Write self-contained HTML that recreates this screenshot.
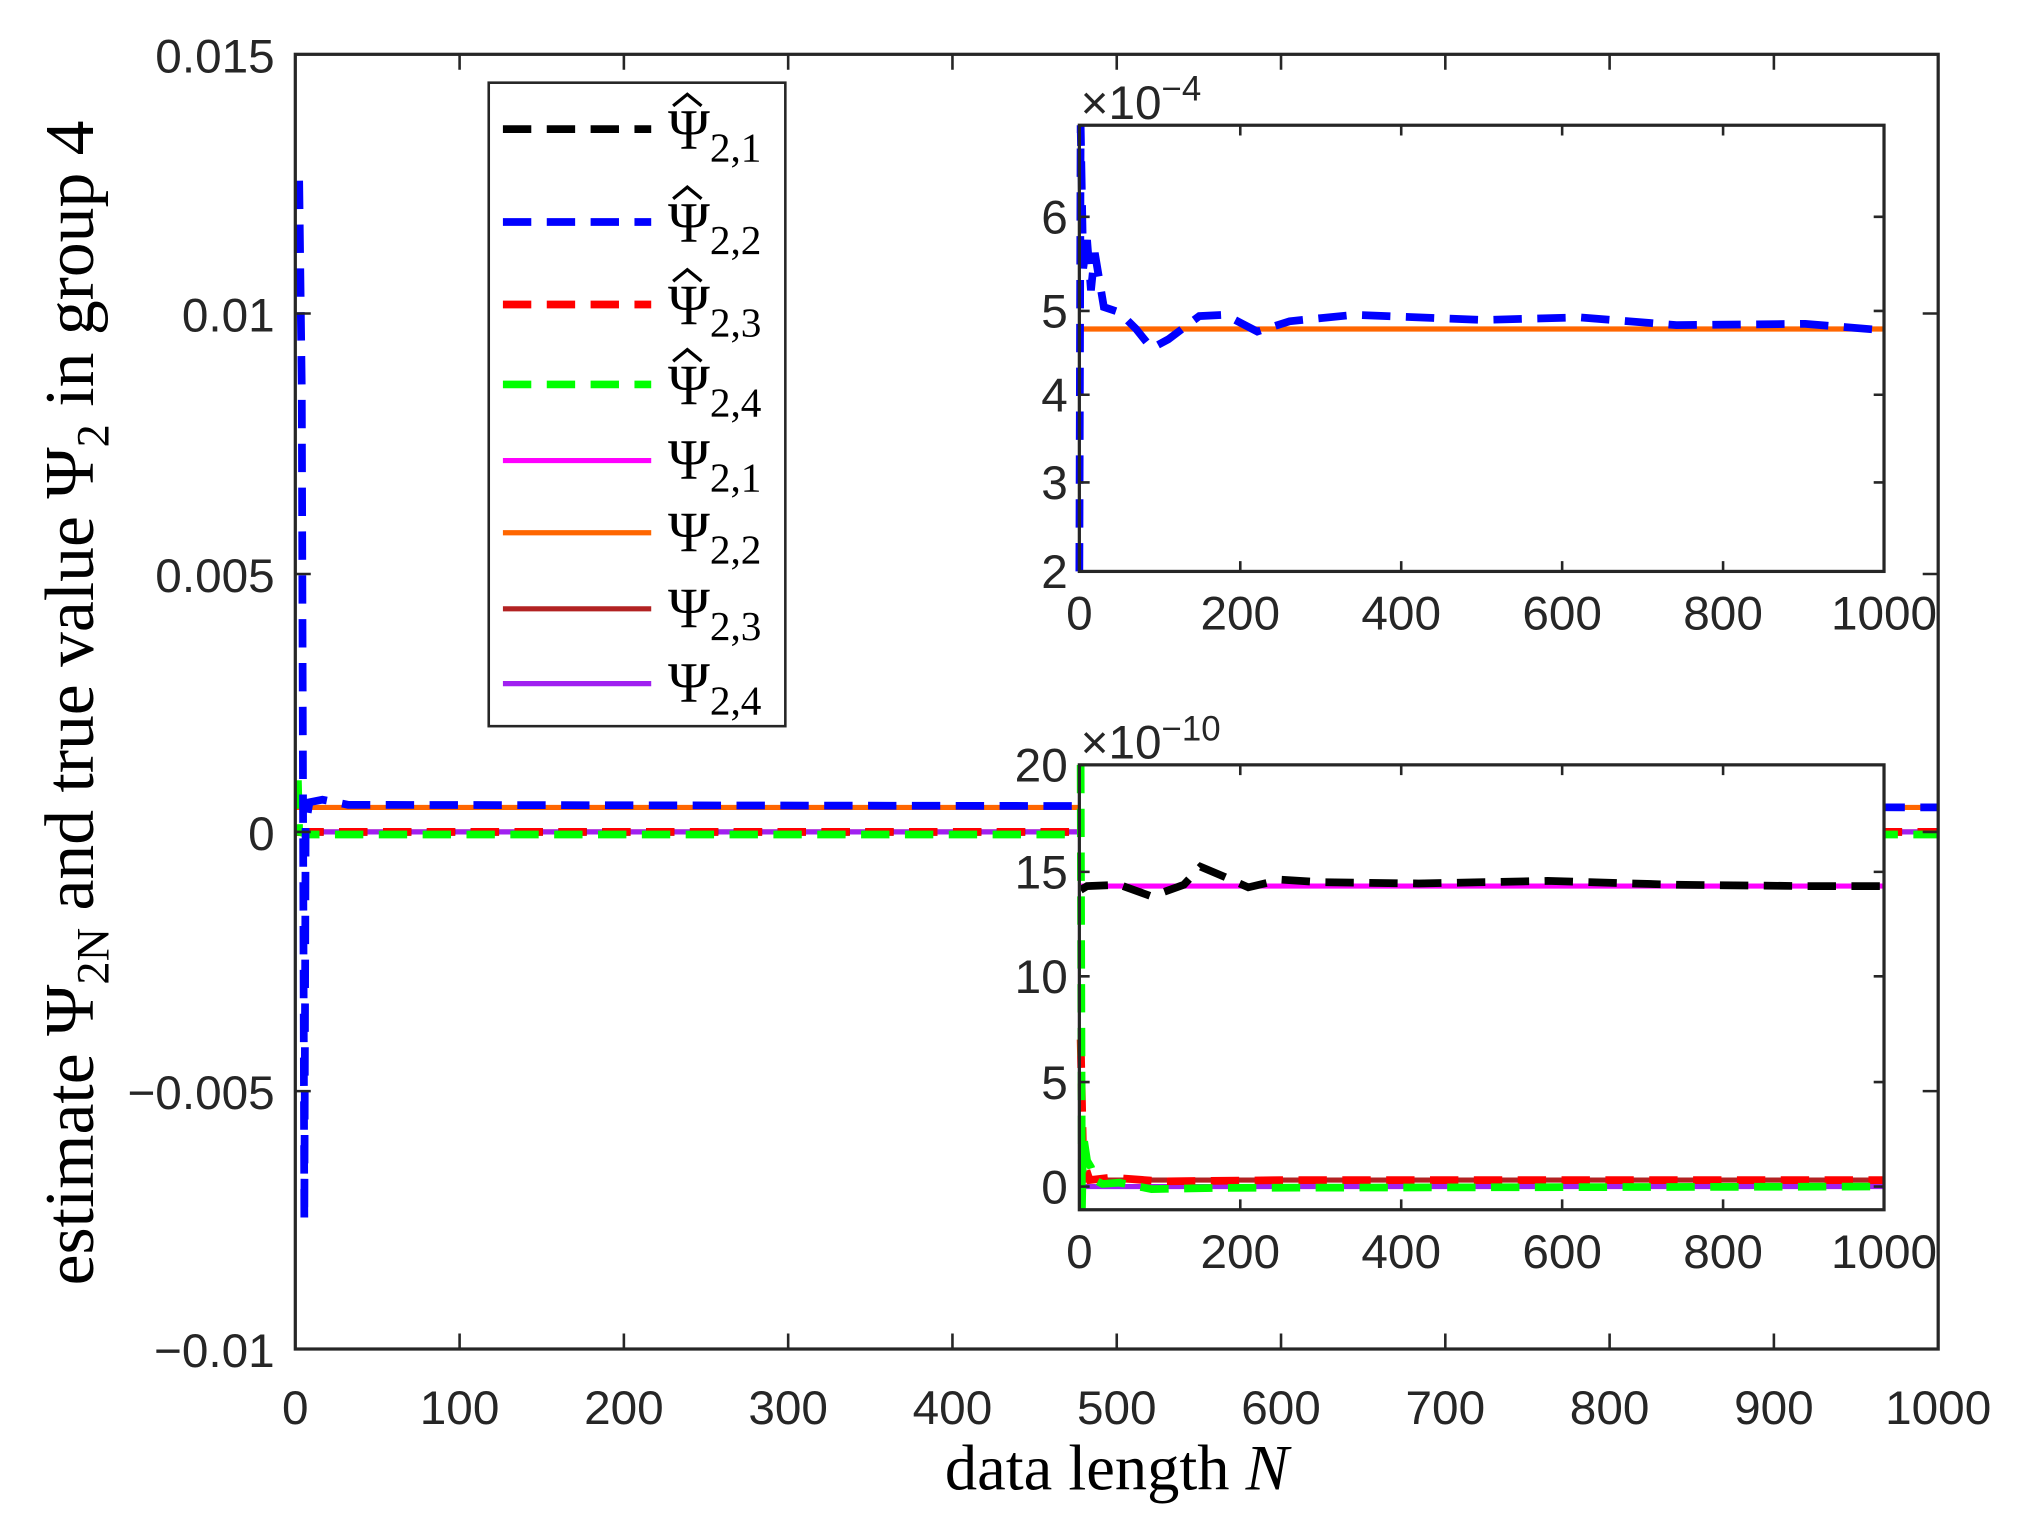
<!DOCTYPE html>
<html><head><meta charset="utf-8"><style>
html,body{margin:0;padding:0;background:#fff;}
svg{display:block;}
.t{font-family:"Liberation Sans",sans-serif;font-size:37px;fill:#262626;}
.s{font-family:"Liberation Serif",serif;fill:#000;}
</style></head><body>
<svg width="2022" height="1531" viewBox="0 0 1568 1187" xmlns="http://www.w3.org/2000/svg">
<rect width="1568" height="1187" fill="#fff"/>
<g fill="none" stroke-width="4">
<path d="M229 645 H1503" stroke="#ff00ff"/>
<path d="M229 645 H1503" stroke="#b22222"/>
<path d="M229 645 H1503" stroke="#a020f0"/>
<path d="M229 626 H1503" stroke="#ff6600"/>
</g>
<g fill="none" stroke-width="6" stroke-dasharray="22 12">
<path d="M229 645 H1503" stroke="#000"/>
<path d="M229 645 H1503" stroke="#ff0000"/>
<path d="M231 605 L232 645 L240 647 H1503" stroke="#00ff00"/>
<path d="M232 140 L234 300 L236 946 L237 640 L240 622 L250 620 L270 624 L1503 626" stroke="#0000ff"/>
</g>
<rect x="229" y="42" width="1274" height="1004" fill="none" stroke="#262626" stroke-width="2.5"/>
<g stroke="#262626" stroke-width="2">
<path d="M356.4 1046v-12M483.8 1046v-12M611.2 1046v-12M738.6 1046v-12M866 1046v-12M993.4 1046v-12M1120.8 1046v-12M1248.2 1046v-12M1375.6 1046v-12"/>
<path d="M356.4 42v12M483.8 42v12M611.2 42v12M738.6 42v12M866 42v12M993.4 42v12M1120.8 42v12M1248.2 42v12M1375.6 42v12"/>
<path d="M229 243h12M229 445h12M229 645h12M229 846h12M1503 243h-12M1503 445h-12M1503 645h-12M1503 846h-12"/>
</g>
<g class="t" text-anchor="end">
<text x="213" y="56">0.015</text>
<text x="213" y="257">0.01</text>
<text x="213" y="459">0.005</text>
<text x="213" y="659">0</text>
<text x="213" y="860">−0.005</text>
<text x="213" y="1060">−0.01</text>
</g>
<g class="t" text-anchor="middle">
<text x="229" y="1104">0</text><text x="356.4" y="1104">100</text><text x="483.8" y="1104">200</text><text x="611.2" y="1104">300</text><text x="738.6" y="1104">400</text><text x="866" y="1104">500</text><text x="993.4" y="1104">600</text><text x="1120.8" y="1104">700</text><text x="1248.2" y="1104">800</text><text x="1375.6" y="1104">900</text><text x="1503" y="1104">1000</text>
</g>
<text class="s" x="866" y="1155" font-size="50" text-anchor="middle">data length <tspan font-style="italic">N</tspan></text>
<text class="s" font-size="54" text-anchor="middle" transform="translate(72,545) rotate(-90)">estimate Ψ<tspan font-size="36" dy="12">2N</tspan><tspan dy="-12"> and true value Ψ</tspan><tspan font-size="36" dy="12">2</tspan><tspan dy="-12"> in group 4</tspan></text>
<rect x="379" y="64" width="230" height="499" fill="#fff" stroke="#262626" stroke-width="2"/>
<g stroke-width="6" fill="none" stroke-dasharray="22 12">
<path d="M390 100H505" stroke="#000"/>
<path d="M390 172H505" stroke="#0000ff"/>
<path d="M390 236H505" stroke="#ff0000"/>
<path d="M390 298H505" stroke="#00ff00"/>
</g>
<g stroke-width="4" fill="none">
<path d="M390 357H505" stroke="#ff00ff"/>
<path d="M390 413H505" stroke="#ff6600"/>
<path d="M390 472H505" stroke="#b22222"/>
<path d="M390 530H505" stroke="#a020f0"/>
</g>
<g fill="none" stroke="#000" stroke-width="2.5">
<path d="M522 82 L533 73 L544 82"/>
<path d="M522 154 L533 145 L544 154"/>
<path d="M522 218 L533 209 L544 218"/>
<path d="M522 280 L533 271 L544 280"/>
</g>
<g class="s" font-size="44">
<text x="518" y="115">Ψ<tspan font-size="32" dy="10">2,1</tspan></text>
<text x="518" y="187">Ψ<tspan font-size="32" dy="10">2,2</tspan></text>
<text x="518" y="251">Ψ<tspan font-size="32" dy="10">2,3</tspan></text>
<text x="518" y="313">Ψ<tspan font-size="32" dy="10">2,4</tspan></text>
<text x="518" y="371">Ψ<tspan font-size="32" dy="10">2,1</tspan></text>
<text x="518" y="427">Ψ<tspan font-size="32" dy="10">2,2</tspan></text>
<text x="518" y="486">Ψ<tspan font-size="32" dy="10">2,3</tspan></text>
<text x="518" y="544">Ψ<tspan font-size="32" dy="10">2,4</tspan></text>
</g>
<rect x="837" y="97" width="624" height="346" fill="#fff"/>
<g fill="none">
<path d="M837 255H1461" stroke="#ff6600" stroke-width="4"/>
<path d="M837 443 L838 97 L840 208 L843 186 L846 225 L849 196 L856 238 L868 242 L881 255 L893 270 L906 263 L930 245 L950 244 L975 257 L1000 249 L1050 244 L1150 248 L1225 246 L1300 252 L1400 251 L1461 256" stroke="#0000ff" stroke-width="6" stroke-dasharray="22 12"/>
</g>
<rect x="837" y="97" width="624" height="346" fill="none" stroke="#262626" stroke-width="2.5"/>
<g stroke="#262626" stroke-width="2">
<path d="M961.8 443v-8M1086.6 443v-8M1211.4 443v-8M1336.2 443v-8M961.8 97v8M1086.6 97v8M1211.4 97v8M1336.2 97v8"/>
<path d="M837 374h8M837 306h8M837 241h8M837 168h8M1461 374h-8M1461 306h-8M1461 241h-8M1461 168h-8"/>
</g>
<g class="t" text-anchor="end">
<text x="828" y="456">2</text><text x="828" y="387">3</text><text x="828" y="319">4</text><text x="828" y="254">5</text><text x="828" y="181">6</text>
</g>
<g class="t" text-anchor="middle">
<text x="837" y="488">0</text><text x="961.8" y="488">200</text><text x="1086.6" y="488">400</text><text x="1211.4" y="488">600</text><text x="1336.2" y="488">800</text><text x="1461" y="488">1000</text>
</g>
<text class="t" x="838" y="92">×10<tspan font-size="27" dy="-14">−4</tspan></text>
<rect x="837" y="593" width="624" height="345" fill="#fff"/>
<g fill="none" stroke-width="4">
<path d="M837 687H1461" stroke="#ff00ff"/>
<path d="M837 915H1461" stroke="#b22222"/>
<path d="M837 920H1461" stroke="#a020f0"/>
</g>
<g fill="none" stroke-width="6" stroke-dasharray="22 12">
<path d="M838 690 L843 687 L868 686 L893 695 L918 686 L931 672 L950 680 L968 688 L993 682 L1025 684 L1100 685 L1200 683 L1300 686 L1400 687 L1461 687" stroke="#000"/>
<path d="M838 806 L840 900 L845 915 L862 913 L900 916 L1000 915 L1461 915" stroke="#ff0000"/>
<path d="M838 593 L839 938 L840 880 L843 900 L846 905 L849 915 L855 918 L868 917 L893 922 L950 921 L1461 920" stroke="#00ff00"/>
</g>
<rect x="837" y="593" width="624" height="345" fill="none" stroke="#262626" stroke-width="2.5"/>
<g stroke="#262626" stroke-width="2">
<path d="M961.8 938v-8M1086.6 938v-8M1211.4 938v-8M1336.2 938v-8M961.8 593v8M1086.6 593v8M1211.4 593v8M1336.2 593v8"/>
<path d="M837 676h8M837 757h8M837 839h8M837 920h8M1461 676h-8M1461 757h-8M1461 839h-8M1461 920h-8"/>
</g>
<g class="t" text-anchor="end">
<text x="828" y="606">20</text><text x="828" y="689">15</text><text x="828" y="770">10</text><text x="828" y="852">5</text><text x="828" y="933">0</text>
</g>
<g class="t" text-anchor="middle">
<text x="837" y="983">0</text><text x="961.8" y="983">200</text><text x="1086.6" y="983">400</text><text x="1211.4" y="983">600</text><text x="1336.2" y="983">800</text><text x="1461" y="983">1000</text>
</g>
<text class="t" x="838" y="588">×10<tspan font-size="27" dy="-14">−10</tspan></text>
</svg>
</body></html>
